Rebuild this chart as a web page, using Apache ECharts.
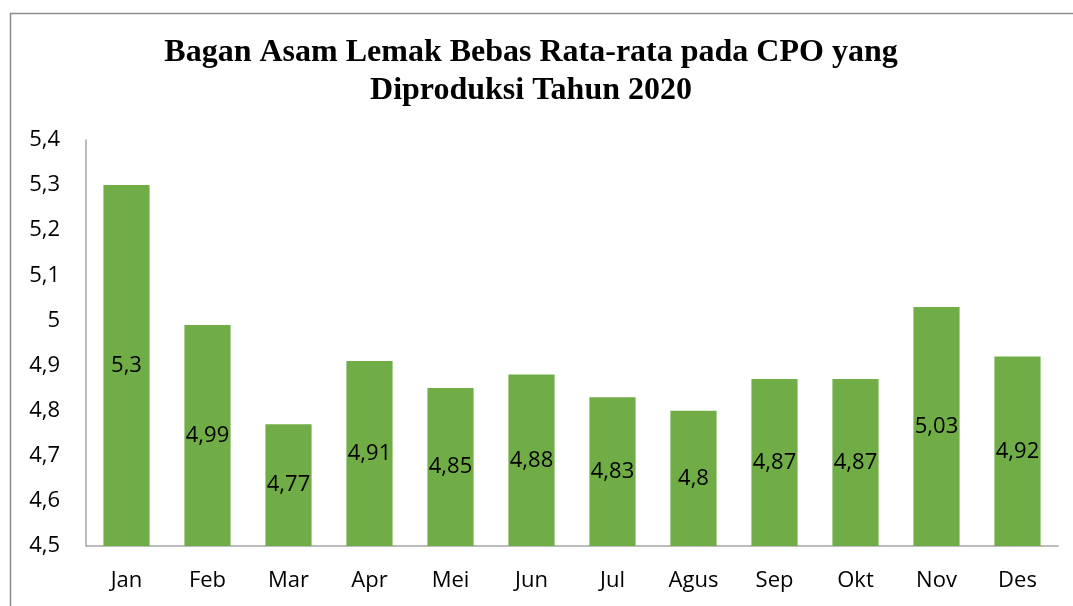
<!DOCTYPE html>
<html><head><meta charset="utf-8">
<script src="https://cdn.jsdelivr.net/npm/echarts@6/dist/echarts.min.js"></script>
<style>html,body{margin:0;padding:0;background:#fff}#c{width:1073px;height:606px}</style>
</head><body><div id="c"></div>
<script>
const categories = ['Jan','Feb','Mar','Apr','Mei','Jun','Jul','Agus','Sep','Okt','Nov','Des'];
const values = [5.3, 4.99, 4.77, 4.91, 4.85, 4.88, 4.83, 4.8, 4.87, 4.87, 5.03, 4.92];
const titleText = 'Bagan Asam Lemak Bebas Rata-rata pada CPO yang\nDiproduksi Tahun 2020';
const fmt = v => String(Math.round(v*100)/100).replace('.', ',');
const chart = echarts.init(document.getElementById('c'));
chart.setOption({
  animation: false,
  graphic: [{type:'rect', shape:{x:10.5,y:13.5,width:1200,height:800}, style:{fill:'none', stroke:'#8c8c8c', lineWidth:1.5}, silent:true, z:-10}],
  title: {text:titleText, left:526, top:29, textAlign:'center',
    textStyle:{fontFamily:'Liberation Serif', fontWeight:'bold', fontSize:32, color:'#000', lineHeight:38}},
  grid: {left:86, right:15, top:140, bottom:60, containLabel:false},
  xAxis: {type:'category', data:categories,
    axisLine:{lineStyle:{color:'#a6a6a6', width:1.5}}, axisTick:{show:false},
    axisLabel:{fontFamily:'Open Sans', fontSize:22, color:'#000', margin:24}},
  yAxis: {type:'value', min:4.5, max:5.4, interval:0.1,
    axisLine:{show:true, lineStyle:{color:'#a6a6a6', width:1.5}}, axisTick:{show:false},
    splitLine:{show:false},
    axisLabel:{fontFamily:'Open Sans', fontSize:22, color:'#000', margin:26, formatter:fmt}},
  series: [{type:'bar', data:values, barWidth:'57%', itemStyle:{color:'#70ad47'},
    label:{show:true, position:'inside', formatter:p=>fmt(p.value), fontFamily:'Open Sans', fontSize:22, color:'#000'}}]
});
</script></body></html>
